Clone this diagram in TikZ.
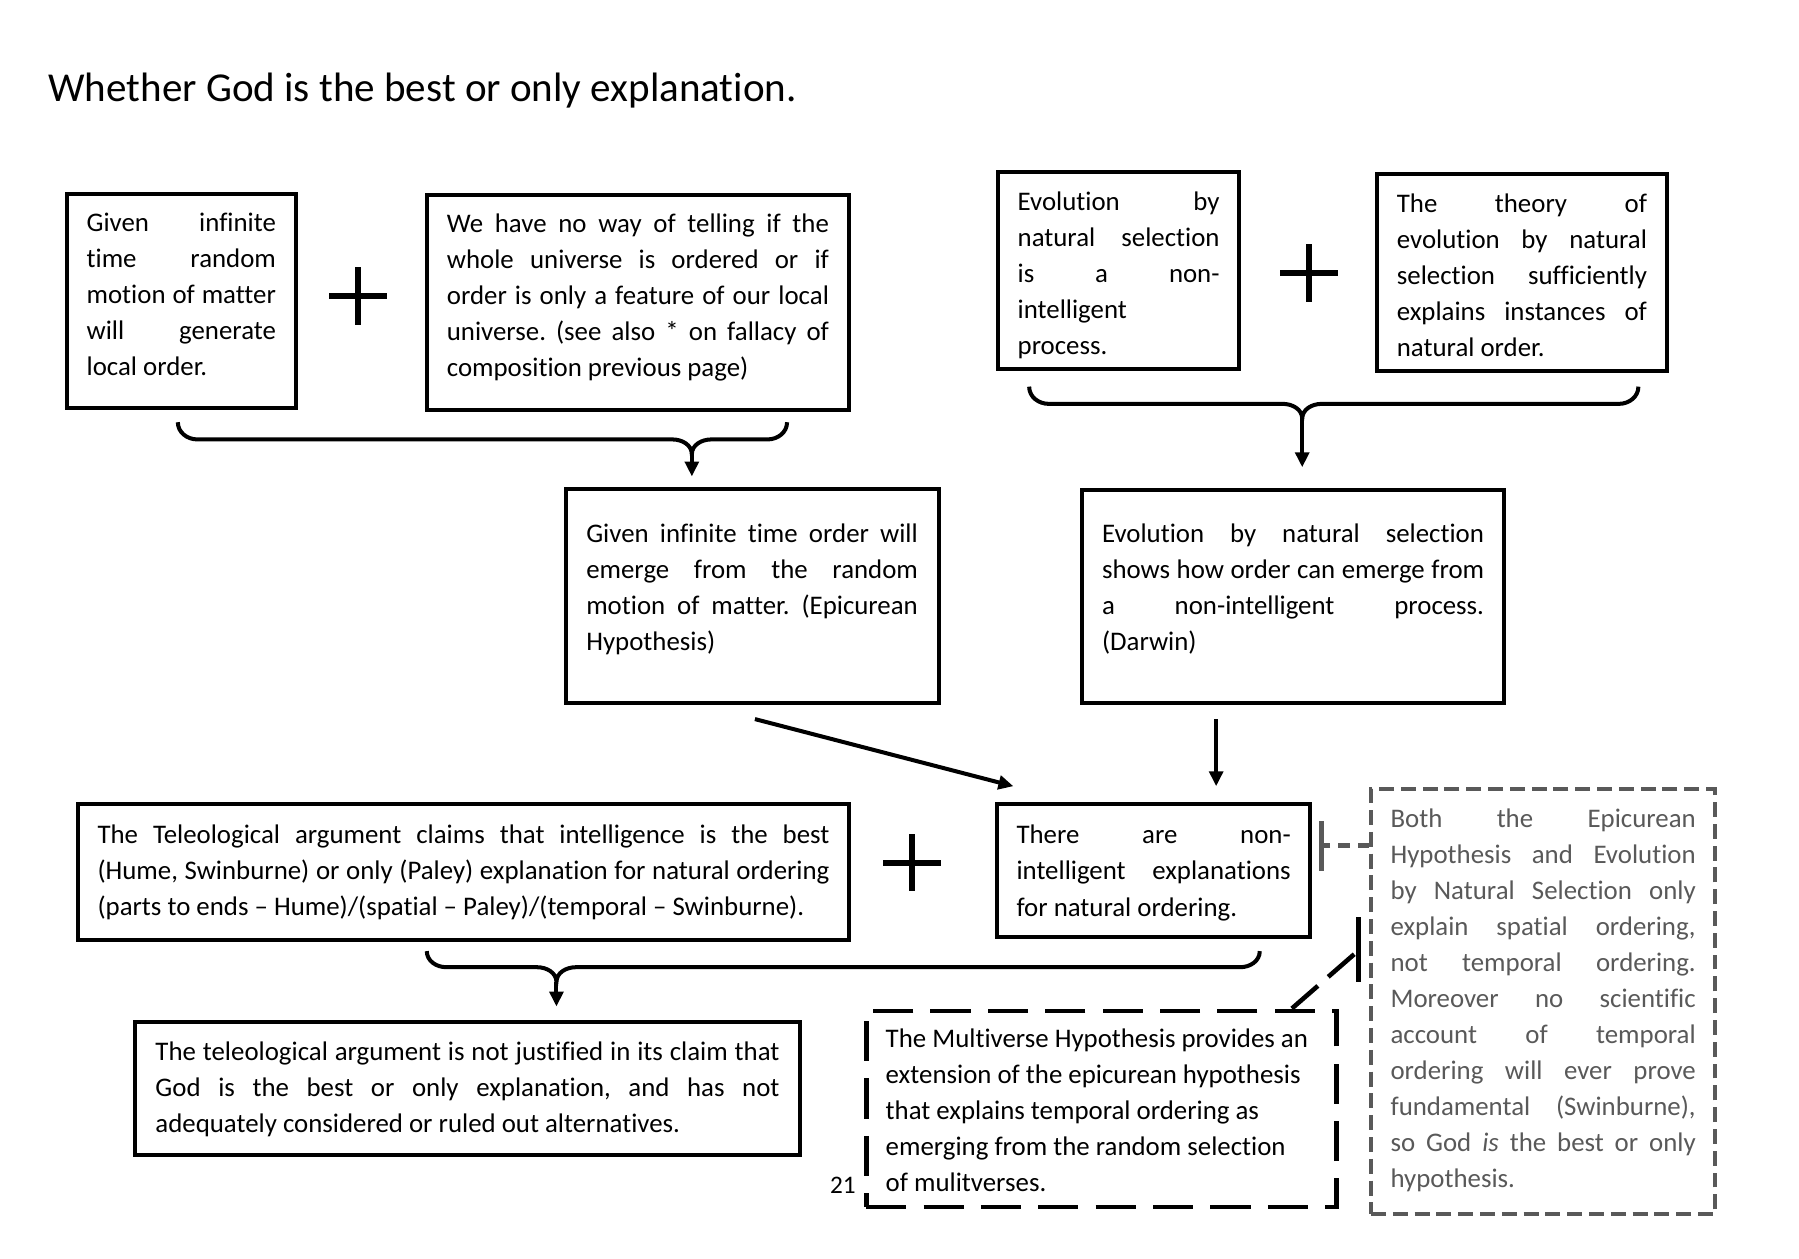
\documentclass[tikz,border=0pt]{standalone}
\usepackage{fontspec}
\setmainfont[Ligatures=NoCommon]{Carlito}
\usetikzlibrary{arrows.meta,calc}
\definecolor{greyK}{RGB}{89,89,89}
\newcommand\bodyfont{\fontsize{23.4pt}{31.4pt}\selectfont\frenchspacing}
\newcommand\jl[1]{\makebox[\hsize][s]{#1}\\}
% box text: #1 height, #2 text width, #3 top pad, #4 text
\newcommand\boxtext[4]{\parbox[c][#1][t]{#2}{\vspace*{#3}\strut #4}}
\newcommand\curlybrace[6]{%
  \draw[bracestyle] (#1,#3) to[out=-90,in=180] (#1+17,#4) -- (#5-17,#4)
     to[out=0,in=90] (#5,#6) to[out=90,in=180] (#5+17,#4) -- (#2-17,#4)
     to[out=0,in=-90] (#2,#3);}
\tikzset{
  box/.style={draw, line width=3.5pt, inner sep=0pt, font=\bodyfont},
  dashbox/.style={box, line width=4pt, dash pattern=on 35pt off 15pt},
  greybox/.style={box, draw=greyK, text=greyK, line width=3.5pt, dash pattern=on 13pt off 6pt},
  bracestyle/.style={line width=3.5pt},
  arr/.style={line width=3.5pt, -{Triangle[length=13pt,width=12pt]}},
  plussign/.style={line width=5pt},
  greyconn/.style={draw=greyK, line width=4.3pt, dash pattern=on 10pt off 7pt},
  greybar/.style={draw=greyK, line width=4.3pt},
  blackconn/.style={line width=4pt, dash pattern=on 30pt off 12pt},
  blackbar/.style={line width=4pt},
}
\begin{document}
\begin{tikzpicture}[x=1pt,y=-1pt]
\fill[white] (0,0) rectangle (1568,1097);
\useasboundingbox (0,0) rectangle (1568,1097);

\node[anchor=west, font=\fontsize{35.8pt}{40pt}\selectfont, inner sep=0pt] (title) at (42,79)
  {Whether God is the best or only explanation.};

% top-left
\node[box, minimum width=200pt, minimum height=187pt] (A) at (158,262.5)
 {\boxtext{187pt}{165pt}{11pt}{\jl{Given infinite}\jl{time random}\jl{motion of matter}\jl{will generate}local order.}};
\node[box, minimum width=368pt, minimum height=187pt] (B) at (556,263.5)
 {\boxtext{187pt}{333pt}{11pt}{\jl{We have no way of telling if the}\jl{whole universe is ordered or if}\jl{order is only a feature of our local}\jl{universe. (see also * on fallacy of}composition previous page)}};
\node[box, minimum width=325pt, minimum height=187pt] (C) at (655.5,519.5)
 {\boxtext{187pt}{289pt}{24.6pt}{\jl{Given infinite time order will}\jl{emerge from the random}\jl{motion of matter. (Epicurean}Hypothesis)}};

% top-right
\node[box, minimum width=210pt, minimum height=172pt] (D) at (975,236)
 {\boxtext{172pt}{176pt}{11.6pt}{\jl{Evolution by}\jl{natural selection}\jl{is a non-}intelligent\\process.}};
\node[box, minimum width=253pt, minimum height=171pt] (E) at (1326.5,237.5)
 {\boxtext{171pt}{218pt}{11pt}{\jl{The theory of}\jl{evolution by natural}\jl{selection sufficiently}\jl{explains instances of}natural order.}};
\node[box, minimum width=368pt, minimum height=186pt] (F) at (1127,520)
 {\boxtext{186pt}{333pt}{23.8pt}{\jl{Evolution by natural selection}\jl{shows how order can emerge from}\jl{a non-intelligent process.}(Darwin)}};

% middle row
\node[box, minimum width=672pt, minimum height=118pt] (G) at (404,760)
 {\boxtext{118pt}{638pt}{12pt}{\jl{The Teleological argument claims that intelligence is the best}\jl{(Hume, Swinburne) or only (Paley) explanation for natural ordering}(parts to ends – Hume)/(spatial – Paley)/(temporal – Swinburne).}};
\node[box, minimum width=273pt, minimum height=116pt] (H) at (1005.5,759)
 {\boxtext{116pt}{239pt}{12.6pt}{\jl{There are non-}\jl{intelligent explanations}for natural ordering.}};

% bottom
\node[box, minimum width=579pt, minimum height=116pt] (I) at (407.5,949)
 {\boxtext{116pt}{544pt}{11pt}{\jl{The teleological argument is not justified in its claim that}\jl{God is the best or only explanation, and has not}adequately considered or ruled out alternatives.}};
\node[dashbox, minimum width=410pt, minimum height=171pt] (J) at (960,966.5)
 {\boxtext{171pt}{376pt}{10pt}{\mbox{The Multiverse Hypothesis provides an}\\\mbox{extension of the epicurean hypothesis}\\\mbox{that explains temporal ordering as}\\\mbox{emerging from the random selection}\\\mbox{of mulitverses.}}};
\node[greybox, minimum width=300pt, minimum height=370pt] (K) at (1345,873)
 {\boxtext{370pt}{266pt}{11pt}{\jl{Both the Epicurean}\jl{Hypothesis and Evolution}\jl{by Natural Selection only}\jl{explain spatial ordering,}\jl{not temporal ordering.}\jl{Moreover no scientific}\jl{account of temporal}\jl{ordering will ever prove}\jl{fundamental (Swinburne),}\jl{so God \textit{is} the best or only}hypothesis.}};

\node[anchor=east, font=\fontsize{22pt}{26pt}\selectfont, inner sep=0pt] (pnum) at (746,1033) {21};

% plus signs
\draw[plussign] (287,258) -- (337,258) (312,233) -- (312,283);
\draw[plussign] (1116,238) -- (1166,238) (1141,213) -- (1141,263);
\draw[plussign] (770,752) -- (820,752) (795,727) -- (795,777);

% braces
\curlybrace{155}{686}{368}{383}{603}{396}
\coordinate (c1) at (603,396);
\draw[arr, shorten >=9pt] (c1) -- (c1 |- C.north);
\curlybrace{897}{1428}{337}{352}{1135}{365}
\coordinate (c2) at (1135,365);
\draw[arr, shorten >=18pt] (c2) -- (c2 |- F.north);
\curlybrace{372}{1098}{829}{843}{485}{856}
\coordinate (c3) at (485,856);
\draw[arr, shorten >=12pt] (c3) -- (c3 |- I.north);

% arrows into H
\draw[arr] ($(C.south)+(2.5,12)$) -- ($(H.north west)+(16,-14)$);
\draw[arr] ($(F.south)+(-67,12)$) -- ($(H.north)+(54.5,-14)$);

% grey connector K -> H
\coordinate (gk) at ($(K.north west)+(0,51)$);
\coordinate (gh) at ($(H.east |- gk)+(8,0)$);
\draw[greyconn] (gk) -- (gh);
\draw[greybar] ($(gh)+(0,-21.5)$) -- ($(gh)+(0,21.5)$);

% black connector J -> K
\coordinate (jk) at ($(J.north east)+(-41,0)$);
\coordinate (kb) at ($(K.north west)+(-9,142)$);
\draw[blackconn] (jk) -- (kb);
\draw[blackbar] ($(kb)+(0,-29)$) -- ($(kb)+(0,28)$);
\end{tikzpicture}
\end{document}
